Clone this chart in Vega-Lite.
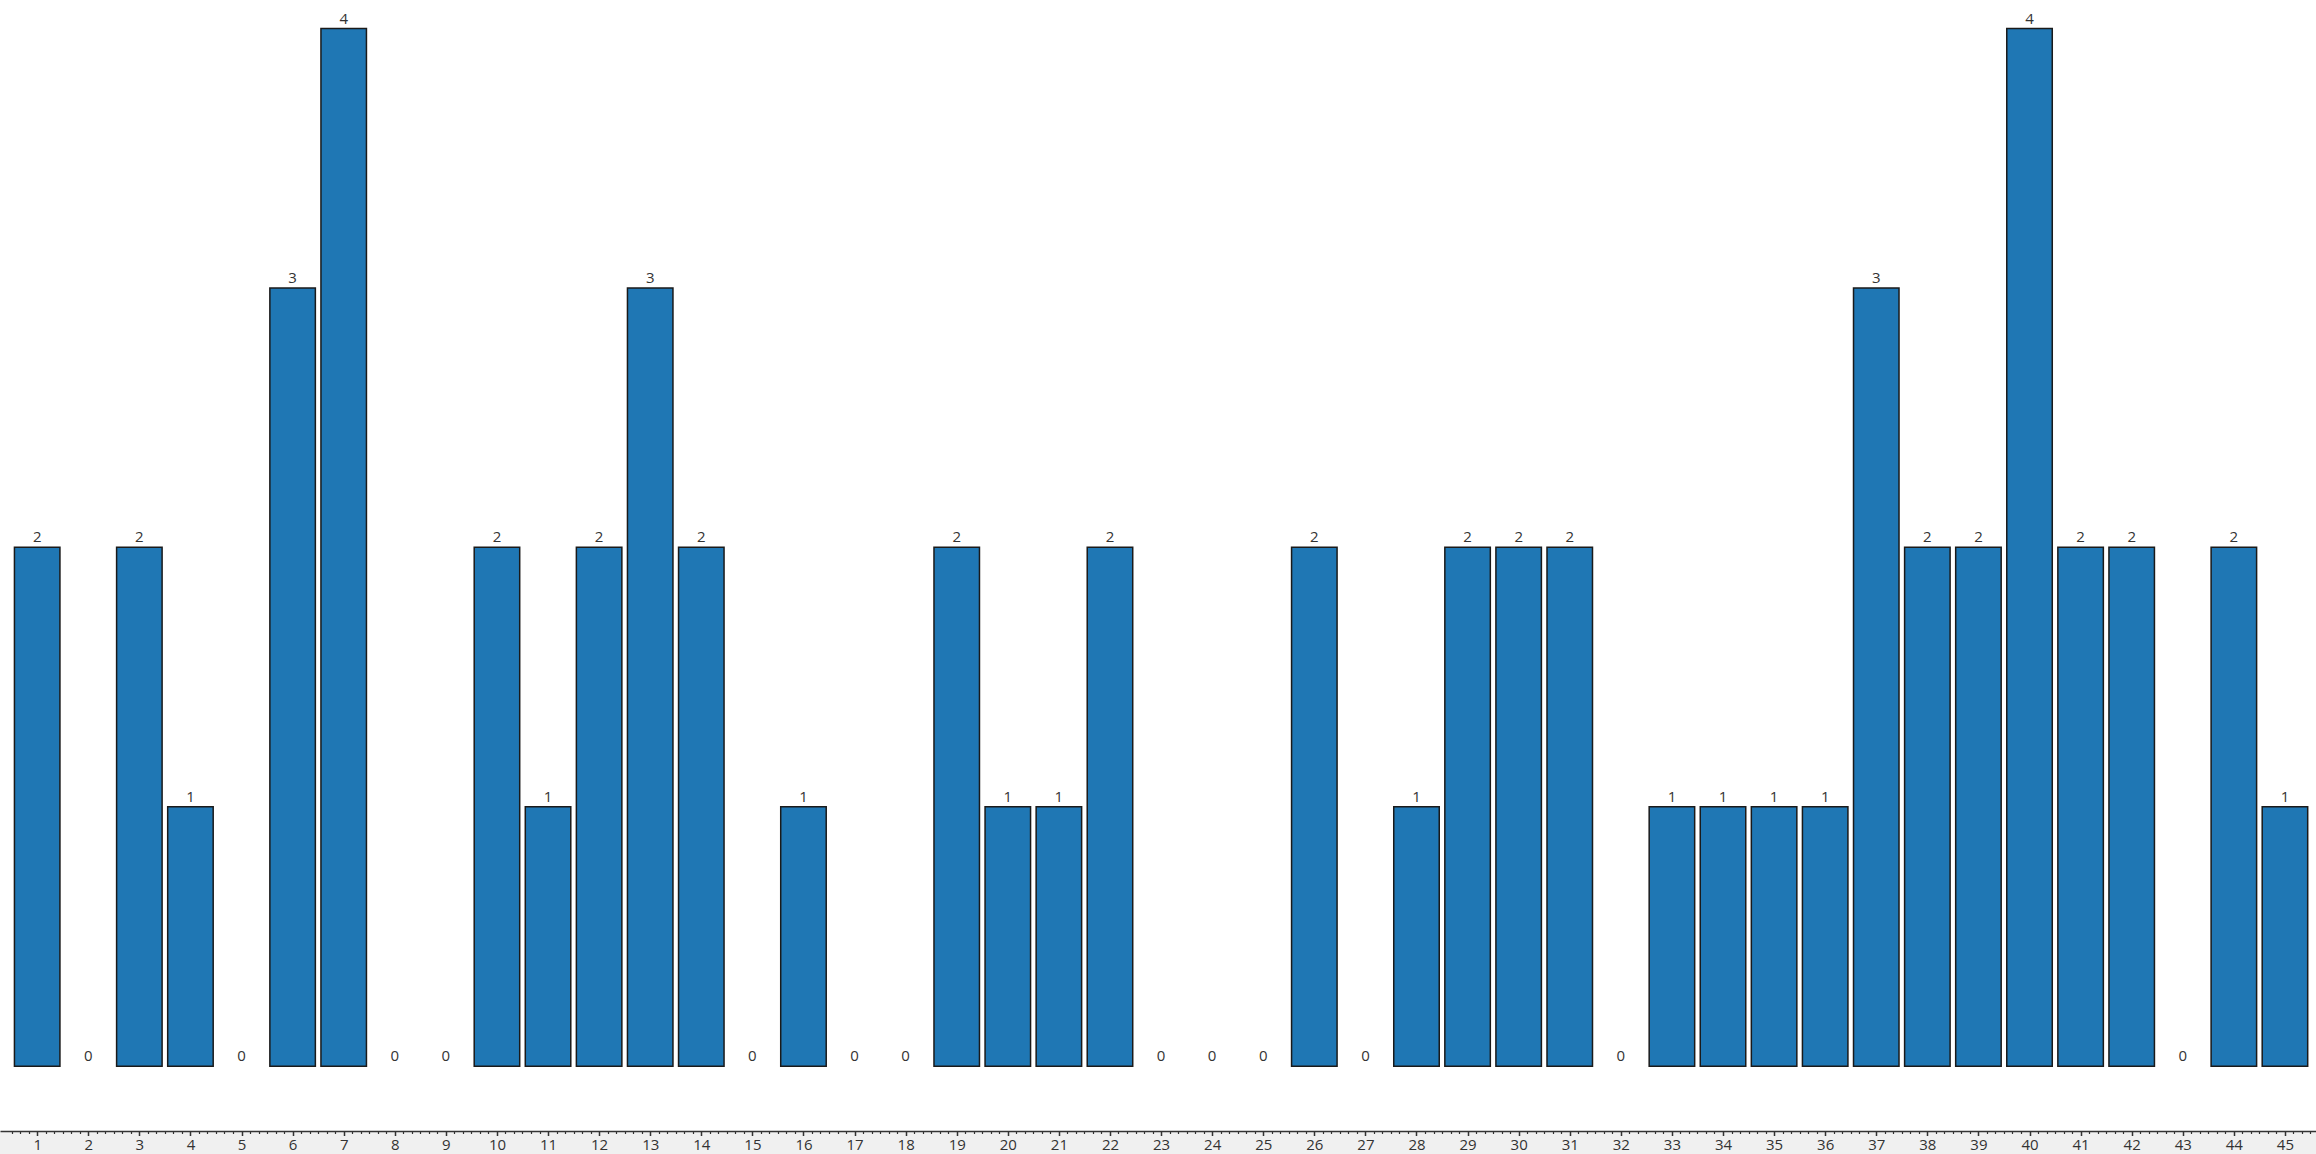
{
  "$schema": "https://vega.github.io/schema/vega-lite/v6.json",
  "width": 2316,
  "height": 1131,
  "autosize": "none",
  "padding": {"left": 0, "top": 0, "right": 0, "bottom": 23},
  "background": "#f0f0f0",
  "view": {"fill": "white", "stroke": null},
  "config": {"font": "Open Sans"},
  "data": {
    "values": [
      {"n": 1, "count": 2}, {"n": 2, "count": 0}, {"n": 3, "count": 2}, {"n": 4, "count": 1}, {"n": 5, "count": 0},
      {"n": 6, "count": 3}, {"n": 7, "count": 4}, {"n": 8, "count": 0}, {"n": 9, "count": 0}, {"n": 10, "count": 2},
      {"n": 11, "count": 1}, {"n": 12, "count": 2}, {"n": 13, "count": 3}, {"n": 14, "count": 2}, {"n": 15, "count": 0},
      {"n": 16, "count": 1}, {"n": 17, "count": 0}, {"n": 18, "count": 0}, {"n": 19, "count": 2}, {"n": 20, "count": 1},
      {"n": 21, "count": 1}, {"n": 22, "count": 2}, {"n": 23, "count": 0}, {"n": 24, "count": 0}, {"n": 25, "count": 0},
      {"n": 26, "count": 2}, {"n": 27, "count": 0}, {"n": 28, "count": 1}, {"n": 29, "count": 2}, {"n": 30, "count": 2},
      {"n": 31, "count": 2}, {"n": 32, "count": 0}, {"n": 33, "count": 1}, {"n": 34, "count": 1}, {"n": 35, "count": 1},
      {"n": 36, "count": 1}, {"n": 37, "count": 3}, {"n": 38, "count": 2}, {"n": 39, "count": 2}, {"n": 40, "count": 4},
      {"n": 41, "count": 2}, {"n": 42, "count": 2}, {"n": 43, "count": 0}, {"n": 44, "count": 2}, {"n": 45, "count": 1}
    ]
  },
  "encoding": {
    "x": {
      "field": "n",
      "type": "quantitative",
      "scale": {"domain": [0.37, 45.51], "nice": false, "zero": false},
      "axis": {
        "title": null,
        "grid": false,
        "values": [0.5,0.6667,0.8333,
          1,1.1667,1.3333,1.5,1.6667,1.8333,
          2,2.1667,2.3333,2.5,2.6667,2.8333,
          3,3.1667,3.3333,3.5,3.6667,3.8333,
          4,4.1667,4.3333,4.5,4.6667,4.8333,
          5,5.1667,5.3333,5.5,5.6667,5.8333,
          6,6.1667,6.3333,6.5,6.6667,6.8333,
          7,7.1667,7.3333,7.5,7.6667,7.8333,
          8,8.1667,8.3333,8.5,8.6667,8.8333,
          9,9.1667,9.3333,9.5,9.6667,9.8333,
          10,10.1667,10.3333,10.5,10.6667,10.8333,
          11,11.1667,11.3333,11.5,11.6667,11.8333,
          12,12.1667,12.3333,12.5,12.6667,12.8333,
          13,13.1667,13.3333,13.5,13.6667,13.8333,
          14,14.1667,14.3333,14.5,14.6667,14.8333,
          15,15.1667,15.3333,15.5,15.6667,15.8333,
          16,16.1667,16.3333,16.5,16.6667,16.8333,
          17,17.1667,17.3333,17.5,17.6667,17.8333,
          18,18.1667,18.3333,18.5,18.6667,18.8333,
          19,19.1667,19.3333,19.5,19.6667,19.8333,
          20,20.1667,20.3333,20.5,20.6667,20.8333,
          21,21.1667,21.3333,21.5,21.6667,21.8333,
          22,22.1667,22.3333,22.5,22.6667,22.8333,
          23,23.1667,23.3333,23.5,23.6667,23.8333,
          24,24.1667,24.3333,24.5,24.6667,24.8333,
          25,25.1667,25.3333,25.5,25.6667,25.8333,
          26,26.1667,26.3333,26.5,26.6667,26.8333,
          27,27.1667,27.3333,27.5,27.6667,27.8333,
          28,28.1667,28.3333,28.5,28.6667,28.8333,
          29,29.1667,29.3333,29.5,29.6667,29.8333,
          30,30.1667,30.3333,30.5,30.6667,30.8333,
          31,31.1667,31.3333,31.5,31.6667,31.8333,
          32,32.1667,32.3333,32.5,32.6667,32.8333,
          33,33.1667,33.3333,33.5,33.6667,33.8333,
          34,34.1667,34.3333,34.5,34.6667,34.8333,
          35,35.1667,35.3333,35.5,35.6667,35.8333,
          36,36.1667,36.3333,36.5,36.6667,36.8333,
          37,37.1667,37.3333,37.5,37.6667,37.8333,
          38,38.1667,38.3333,38.5,38.6667,38.8333,
          39,39.1667,39.3333,39.5,39.6667,39.8333,
          40,40.1667,40.3333,40.5,40.6667,40.8333,
          41,41.1667,41.3333,41.5,41.6667,41.8333,
          42,42.1667,42.3333,42.5,42.6667,42.8333,
          43,43.1667,43.3333,43.5,43.6667,43.8333,
          44,44.1667,44.3333,44.5,44.6667,44.8333,
          45,45.1667,45.3333,45.5],
        "labelExpr": "abs(datum.value - round(datum.value)) < 0.01 ? format(round(datum.value), 'd') : ''",
        "labelOverlap": false,
        "labelFlush": false,
        "labelFontSize": 15,
        "labelColor": "#333333",
        "labelPadding": 2,
        "domainColor": "#333333",
        "domainWidth": 1.5,
        "tickColor": "#333333",
        "tickWidth": {"condition": {"test": "abs(datum.value - round(datum.value)) < 0.01", "value": 1.5}, "value": 1.2},
        "tickSize": {"condition": {"test": "abs(datum.value - round(datum.value)) < 0.01", "value": 4.5}, "value": 2.5}
      }
    },
    "y": {
      "field": "count",
      "type": "quantitative",
      "scale": {"domain": [-0.25, 4.11], "nice": false, "zero": false},
      "axis": null
    }
  },
  "layer": [
    {
      "transform": [{"filter": "datum.count > 0"}],
      "mark": {"type": "bar", "width": 45.5, "fill": "#1f77b4", "stroke": "#1a1a1a", "strokeWidth": 1.5},
      "encoding": {"y2": {"datum": 0}}
    },
    {
      "mark": {"type": "text", "baseline": "alphabetic", "dy": -5, "fontSize": 15, "color": "#333333"},
      "encoding": {"text": {"field": "count", "type": "quantitative"}}
    }
  ]
}
